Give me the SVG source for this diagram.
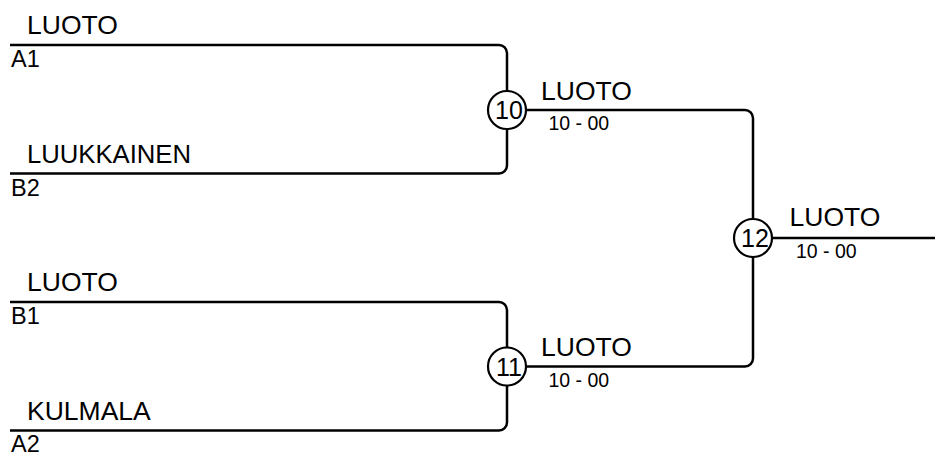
<svg xmlns="http://www.w3.org/2000/svg" width="935" height="455" viewBox="0 0 935 455">
<style>
.ln{fill:none;stroke:#000;stroke-width:2.5}
.nd{fill:#fff;stroke:#000;stroke-width:2.2}
.nm{font-family:"Liberation Sans",Arial,sans-serif;font-size:26.5px;fill:#000}
.lb{font-family:"Liberation Sans",Arial,sans-serif;font-size:23.5px;fill:#000}
.sc{font-family:"Liberation Sans",Arial,sans-serif;font-size:19.5px;fill:#000}
.num{font-family:"Liberation Sans",Arial,sans-serif;font-size:25px;fill:#000;text-anchor:middle}
</style>
<rect width="935" height="455" fill="#fff"/>
<g id="connectors">
<path class="ln" d="M10,45 H499 A8,8 0 0 1 507,53 V165.5 A8,8 0 0 1 499,173.5 H10"/>
<path class="ln" d="M10,302 H499 A8,8 0 0 1 507,310 V422.5 A8,8 0 0 1 499,430.5 H10"/>
<path class="ln" d="M507,110 H745 A8,8 0 0 1 753,118 V238"/>
<path class="ln" d="M507,366.5 H745 A8,8 0 0 0 753,358.5 V238"/>
<path class="ln" d="M753,238 H935"/>
</g>
<g id="entry-A1">
<text class="nm" x="27" y="34">LUOTO</text>
<text class="lb" x="11" y="66.5">A1</text>
</g>
<g id="entry-B2">
<text class="nm" x="27" y="162.5" textLength="164" lengthAdjust="spacingAndGlyphs">LUUKKAINEN</text>
<text class="lb" x="11" y="195.5">B2</text>
</g>
<g id="entry-B1">
<text class="nm" x="27" y="291">LUOTO</text>
<text class="lb" x="11" y="324">B1</text>
</g>
<g id="entry-A2">
<text class="nm" x="27" y="419.5">KULMALA</text>
<text class="lb" x="11" y="451.5">A2</text>
</g>
<g id="match-10">
<circle class="nd" cx="507" cy="110" r="19"/>
<text class="num" x="509" y="119">10</text>
<text class="nm" x="541" y="100">LUOTO</text>
<text class="sc" x="548.5" y="130">10 - 00</text>
</g>
<g id="match-11">
<circle class="nd" cx="507" cy="366.5" r="19"/>
<text class="num" x="509" y="375.5">11</text>
<text class="nm" x="541" y="355.5">LUOTO</text>
<text class="sc" x="548.5" y="386.5">10 - 00</text>
</g>
<g id="match-12">
<circle class="nd" cx="753" cy="238" r="19"/>
<text class="num" x="755" y="247">12</text>
<text class="nm" x="789.5" y="225.5">LUOTO</text>
<text class="sc" x="796" y="258">10 - 00</text>
</g>
</svg>
